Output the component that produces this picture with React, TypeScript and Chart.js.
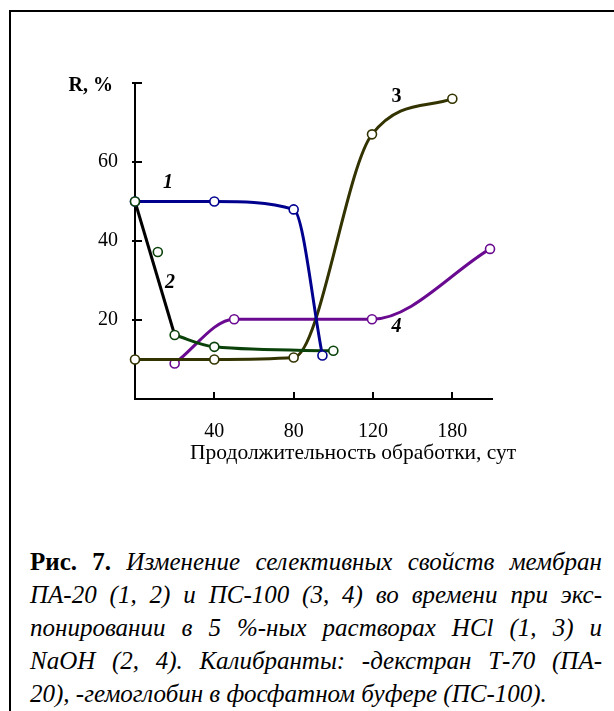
import React, { useEffect, useRef } from 'react';
import { Chart, registerables } from 'chart.js';

Chart.register(...registerables);

// ---- axis ticks ----
const xTickValues = [40, 80, 120, 160];
const xTickLabels = ['40', '80', '120', '180'];
const yTickValues = [20, 40, 60];
const yTickMarks = [20, 40, 60, 80];
const yAxisLabel = 'R, %';
const xAxisTitle = 'Продолжительность обработки, сут';

// ---- series (x in axis units, y in R, %) ----
const curve1X = [0, 40, 80, 94.5];
const curve1Y = [50, 50, 48, 11];
const curve2X = [0, 11.5, 20, 40, 100];
const curve2Y = [50, 37.2, 16.2, 13.2, 12.2];
const curve3X = [0, 40, 80, 119.5, 160];
const curve3Y = [10, 10, 10.5, 67, 76];
const curve4X = [20, 50, 119.5, 179];
const curve4Y = [9, 20.2, 20.2, 38];

// ---- curve number labels ----
const curveLabels = ['1', '2', '3', '4'];
const curveLabelX = [16.6, 17.6, 131.8, 131.8];
const curveLabelY = [54.7, 29.4, 76.5, 18.2];
const curveLabelItalic = [true, true, false, true];

const captionLines = [
  'ПА-20 (1, 2) и ПС-100 (3, 4) во времени при экс-',
  'понировании в 5 %-ных растворах HCl (1, 3) и',
  'NaOH (2, 4). Калибранты: -декстран Т-70 (ПА-',
  '20), -гемоглобин в фосфатном буфере (ПС-100).',
];

const BLUE = '#00008f';
const GREEN = '#0a420a';
const OLIVE = '#333300';
const PURPLE = '#6a0a90';
const FONT = '"Liberation Serif", "Times New Roman", serif';

const pts = (xs: number[], ys: number[]) => xs.map((x, i) => ({ x, y: ys[i] }));

const decor = {
  id: 'decor',
  afterDraw(chart: any) {
    const ctx = chart.ctx;
    const xs = chart.scales.x;
    const ys = chart.scales.y;
    ctx.save();
    ctx.strokeStyle = '#000';
    ctx.lineWidth = 2;
    xTickValues.forEach((v) => {
      const px = Math.round(xs.getPixelForValue(v));
      ctx.beginPath();
      ctx.moveTo(px, ys.bottom);
      ctx.lineTo(px, ys.bottom - 7);
      ctx.stroke();
    });
    yTickMarks.forEach((v) => {
      const py = Math.round(ys.getPixelForValue(v));
      ctx.beginPath();
      ctx.moveTo(xs.left - 3, py);
      ctx.lineTo(xs.left + 7, py);
      ctx.stroke();
    });
    ctx.fillStyle = '#000';
    ctx.font = 'bold 20px ' + FONT;
    ctx.textAlign = 'right';
    ctx.textBaseline = 'middle';
    ctx.fillText(yAxisLabel, xs.left - 22, ys.getPixelForValue(80) + 3);

    curveLabels.forEach((t, i) => {
      ctx.font = (curveLabelItalic[i] ? 'italic ' : '') + 'bold 20px ' + FONT;
      ctx.textAlign = 'center';
      ctx.textBaseline = 'middle';
      ctx.fillText(t, xs.getPixelForValue(curveLabelX[i]), ys.getPixelForValue(curveLabelY[i]));
    });

    ctx.font = '21.5px ' + FONT;
    ctx.textAlign = 'center';
    ctx.textBaseline = 'middle';
    ctx.fillText(xAxisTitle, xs.getPixelForValue(110), ys.bottom + 54);
    ctx.restore();
  },
};

export default function App() {
  const ref = useRef<HTMLCanvasElement>(null);
  useEffect(() => {
    if (!ref.current) return;
    const pointStyle = (c: string) => ({
      pointRadius: 4.5,
      pointHoverRadius: 4.5,
      pointBorderWidth: 1.6,
      pointBackgroundColor: '#fff',
      pointBorderColor: c,
    });
    const chart = new Chart(ref.current, {
      type: 'line',
      data: {
        datasets: [
          {
            data: pts([curve2X[0]], [curve2Y[0]]),
            showLine: false,
            borderColor: GREEN,
            ...pointStyle(GREEN),
            clip: false,
          } as any,
          {
            data: pts(curve1X, curve1Y),
            borderColor: BLUE,
            borderWidth: 3,
            cubicInterpolationMode: 'monotone',
            ...pointStyle(BLUE),
            clip: false,
          } as any,
          {
            data: pts(curve2X.slice(2), curve2Y.slice(2)),
            borderColor: GREEN,
            borderWidth: 3,
            cubicInterpolationMode: 'monotone',
            ...pointStyle(GREEN),
            clip: false,
          } as any,
          {
            data: pts([curve2X[1]], [curve2Y[1]]),
            showLine: false,
            borderColor: GREEN,
            ...pointStyle(GREEN),
            clip: false,
          } as any,
          {
            data: pts([curve2X[0], curve2X[2]], [curve2Y[0], curve2Y[2]]),
            borderColor: '#000',
            borderWidth: 3,
            tension: 0,
            pointRadius: 0,
            clip: false,
          } as any,
          {
            data: pts(curve3X, curve3Y),
            borderColor: OLIVE,
            borderWidth: 3,
            cubicInterpolationMode: 'monotone',
            ...pointStyle(OLIVE),
            clip: false,
          } as any,
          {
            data: pts(curve4X, curve4Y),
            borderColor: PURPLE,
            borderWidth: 3,
            cubicInterpolationMode: 'monotone',
            ...pointStyle(PURPLE),
            clip: false,
          } as any,
        ],
      },
      options: {
        responsive: false,
        animation: false,
        devicePixelRatio: 1,
        layout: { padding: { left: 75, right: 122, top: 83, bottom: 0 } },
        plugins: {
          legend: { display: false },
          tooltip: { enabled: false },
          title: { display: false },
        },
        scales: {
          x: {
            type: 'linear',
            min: 0,
            max: 180,
            grid: { display: false, drawTicks: false, tickLength: 0 },
            border: { display: true, color: '#000', width: 2 },
            ticks: {
              stepSize: 40,
              includeBounds: false,
              autoSkip: false,
              maxRotation: 0,
              padding: 21,
              color: '#000',
              font: { family: FONT, size: 20 },
              callback: (v: any) => {
                const i = xTickValues.indexOf(Number(v));
                return i >= 0 ? xTickLabels[i] : '';
              },
            },
            afterFit: (s: any) => {
              s.height = 81;
            },
          },
          y: {
            type: 'linear',
            min: 0,
            max: 80,
            grid: { display: false, drawTicks: false, tickLength: 0 },
            border: { display: true, color: '#000', width: 2 },
            ticks: {
              stepSize: 20,
              padding: 17,
              color: '#000',
              font: { family: FONT, size: 20 },
              callback: (v: any) => (yTickValues.includes(Number(v)) ? String(v) : ''),
            },
            afterFit: (s: any) => {
              s.width = 60;
            },
          },
        },
      } as any,
      plugins: [decor],
    });
    return () => chart.destroy();
  }, []);

  return (
    <div
      style={{
        position: 'fixed',
        left: 0,
        top: 0,
        width: 614,
        height: 711,
        background: '#fff',
        overflow: 'hidden',
      }}
    >
      <div
        style={{
          position: 'absolute',
          left: 9,
          top: 10,
          width: 700,
          height: 800,
          borderTop: '2px solid #000',
          borderLeft: '2px solid #000',
        }}
      />
      <canvas
        ref={ref}
        width={614}
        height={480}
        style={{ position: 'absolute', left: 0, top: 0, width: 614, height: 480 }}
      />
      <div
        style={{
          position: 'absolute',
          left: 30,
          top: 545,
          width: 572,
          fontFamily: FONT,
          fontSize: 25,
          lineHeight: '33px',
          color: '#000',
        }}
      >
        <div style={{ textAlign: 'justify', textAlignLast: 'justify', whiteSpace: 'nowrap' }}>
          <b>Рис. 7.</b> <i>Изменение селективных свойств мембран</i>
        </div>
        {captionLines.map((l, i) => (
          <div
            key={i}
            style={{
              textAlign: i === captionLines.length - 1 ? 'left' : 'justify',
              textAlignLast: i === captionLines.length - 1 ? 'left' : 'justify',
              fontStyle: 'italic',
              whiteSpace: 'nowrap',
            }}
          >
            {l}
          </div>
        ))}
      </div>
    </div>
  );
}
